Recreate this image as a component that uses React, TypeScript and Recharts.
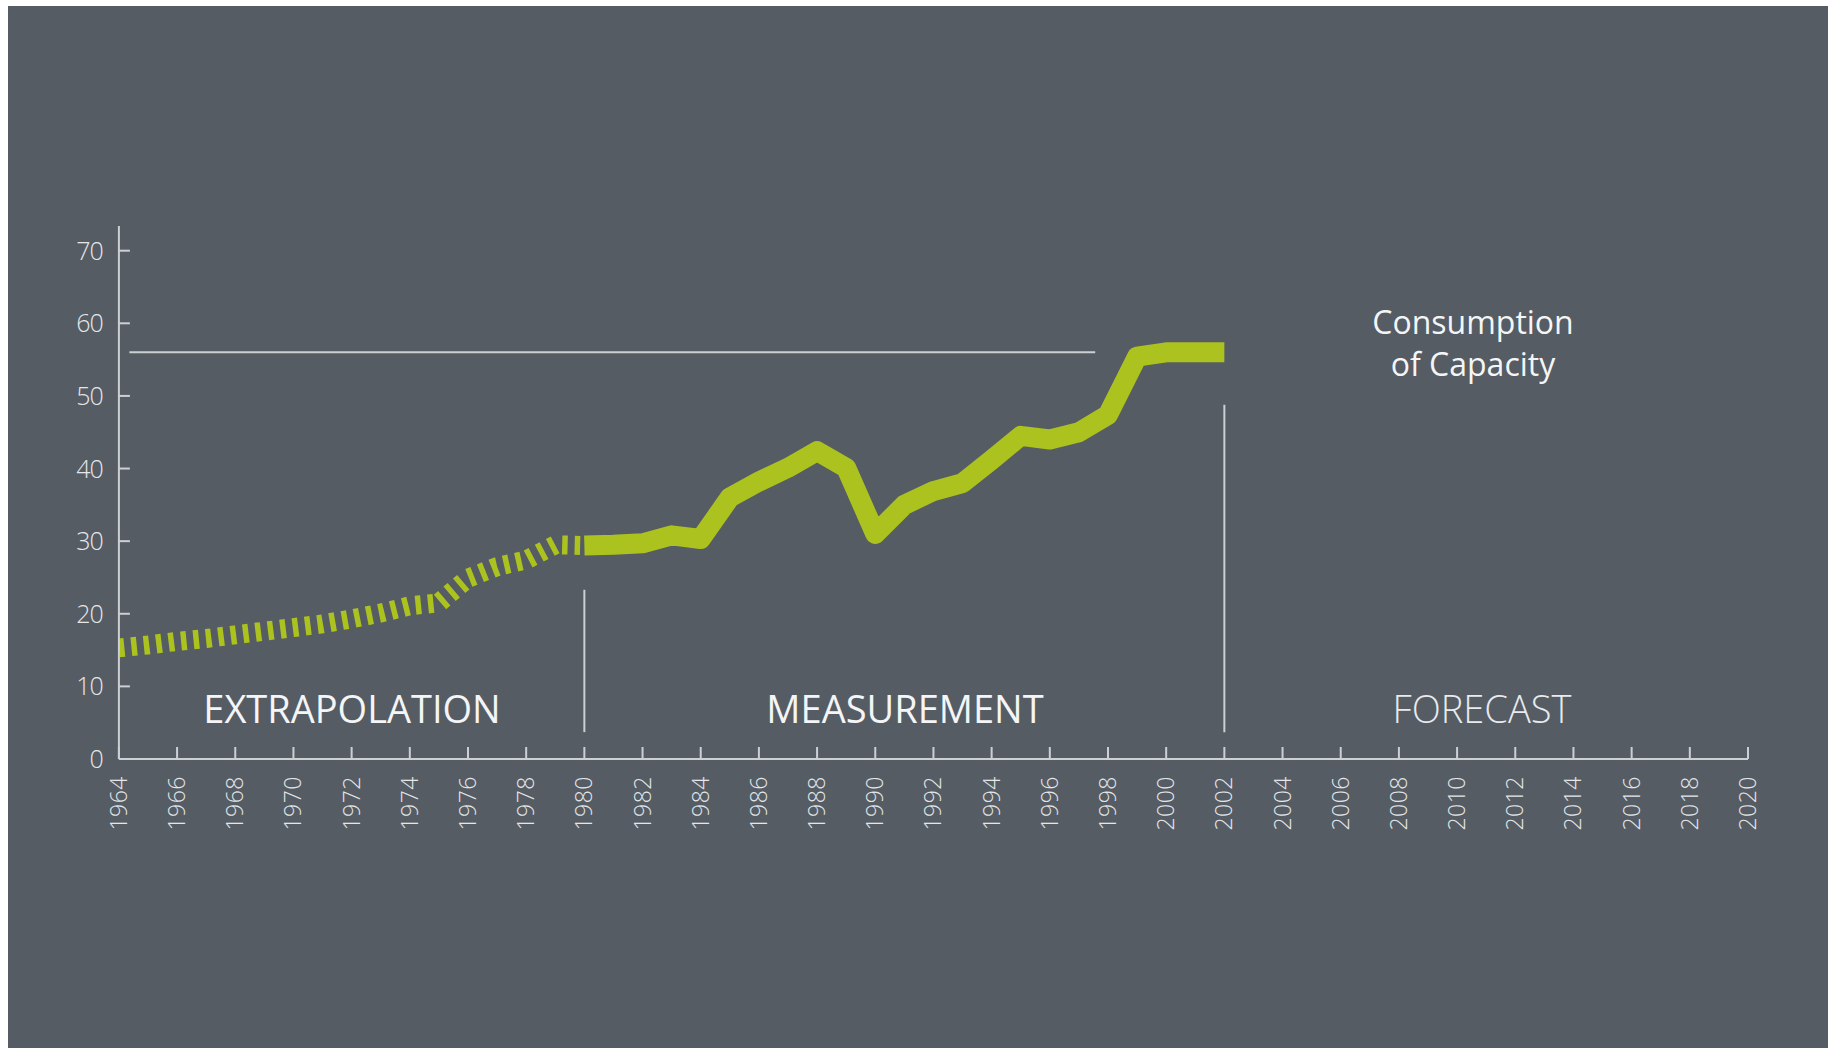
import { LineChart, Line, XAxis, YAxis, ReferenceLine } from 'recharts';

const extrapYears = [1964, 1965, 1966, 1967, 1968, 1969, 1970, 1971, 1972, 1973, 1974, 1975, 1976, 1977, 1978, 1979, 1980];
const extrapValues = [15.3, 15.7, 16.2, 16.6, 17.1, 17.6, 18.1, 18.6, 19.3, 20.1, 21.1, 21.5, 24.9, 26.5, 27.4, 29.5, 29.4];

const measYears = [1980, 1981, 1982, 1983, 1984, 1985, 1986, 1987, 1988, 1989, 1990, 1991, 1992, 1993, 1994, 1995, 1996, 1997, 1998, 1999, 2000, 2001, 2002];
const measValues = [29.4, 29.5, 29.7, 30.8, 30.3, 36.0, 38.2, 40.1, 42.4, 40.1, 31.0, 35.0, 36.9, 38.0, 41.2, 44.5, 44.0, 45.0, 47.4, 55.4, 56.0, 56.0, 56.0];

const yearTicks = [1964, 1966, 1968, 1970, 1972, 1974, 1976, 1978, 1980, 1982, 1984, 1986, 1988, 1990, 1992, 1994, 1996, 1998, 2000, 2002, 2004, 2006, 2008, 2010, 2012, 2014, 2016, 2018, 2020];
const valueTicks = [0, 10, 20, 30, 40, 50, 60, 70];

const capacityLevel = 56;
const capacityFrom = 1964.36;
const capacityTo = 1997.56;
const phaseBreaks = [
  { year: 1980, from: 3.7, to: 23.3 },
  { year: 2002, from: 3.7, to: 48.8 },
];

const phaseLabels = ['EXTRAPOLATION', 'MEASUREMENT', 'FORECAST'];
const titleLines = ['Consumption', 'of Capacity'];

const allYears = Array.from(new Set([...extrapYears, ...measYears])).sort((a, b) => a - b);
const data = allYears.map((year) => {
  const ei = extrapYears.indexOf(year);
  const mi = measYears.indexOf(year);
  return {
    year,
    extrap: ei >= 0 ? extrapValues[ei] : null,
    meas: mi >= 0 ? measValues[mi] : null,
  };
});

const W = 1820;
const H = 1042;
const BG = '#555c64';
const AXIS = '#cdd0d3';
const TEXT = '#e4e6e8';
const GREEN = '#abc21f';
const FONT = '"Open Sans", "Noto Sans", sans-serif';

const XTick = (props: any) => {
  const { x, y, payload } = props;
  return (
    <g>
      <line x1={x} y1={y} x2={x} y2={y - 12} stroke={AXIS} strokeWidth={2} />
      <text
        x={x + 8}
        y={y + 17}
        transform={`rotate(-90, ${x + 8}, ${y + 17})`}
        textAnchor="end"
        fill={TEXT}
        fontSize={23}
        fontWeight={300}
        fontFamily={FONT}
        letterSpacing={0.5}
      >
        {payload.value}
      </text>
    </g>
  );
};

const YTick = (props: any) => {
  const { x, y, payload } = props;
  return (
    <g>
      <line x1={x} y1={y} x2={x + 11} y2={y} stroke={AXIS} strokeWidth={2} />
      <text
        x={x - 16}
        y={y + 9}
        textAnchor="end"
        fill={TEXT}
        fontSize={25}
        fontWeight={300}
        fontFamily={FONT}
        letterSpacing={-1}
      >
        {payload.value}
      </text>
    </g>
  );
};

export default function App() {
  return (
    <div style={{ position: 'absolute', left: 8, top: 6, width: W, height: H, background: BG }}>
      <LineChart
        width={W}
        height={H}
        data={data}
        margin={{ top: 220, right: 80, bottom: 209, left: 50.9 }}
      >
        <XAxis
          dataKey="year"
          type="number"
          domain={[1964, 2020]}
          ticks={yearTicks}
          interval={0}
          height={80}
          tickSize={0}
          tickMargin={0}
          tickLine={false}
          axisLine={{ stroke: AXIS, strokeWidth: 2 }}
          tick={<XTick />}
        />
        <YAxis
          type="number"
          domain={[0, 73.4]}
          ticks={valueTicks}
          interval={0}
          width={60}
          tickSize={0}
          tickMargin={0}
          tickLine={false}
          axisLine={{ stroke: AXIS, strokeWidth: 2 }}
          tick={<YTick />}
        />
        <ReferenceLine
          segment={[{ x: capacityFrom, y: capacityLevel }, { x: capacityTo, y: capacityLevel }]}
          stroke={AXIS}
          strokeWidth={2}
          ifOverflow="visible"
        />
        {phaseBreaks.map((b) => (
          <ReferenceLine
            key={b.year}
            segment={[{ x: b.year, y: b.from }, { x: b.year, y: b.to }]}
            stroke={AXIS}
            strokeWidth={2}
            ifOverflow="visible"
          />
        ))}
        <Line
          type="linear"
          dataKey="extrap"
          stroke={GREEN}
          strokeWidth={19}
          strokeDasharray="5.5 7"
          strokeLinecap="butt"
          strokeLinejoin="round"
          dot={false}
          activeDot={false}
          connectNulls={false}
          isAnimationActive={false}
        />
        <Line
          type="linear"
          dataKey="meas"
          stroke={GREEN}
          strokeWidth={20}
          strokeLinecap="butt"
          strokeLinejoin="round"
          dot={false}
          activeDot={false}
          connectNulls={false}
          isAnimationActive={false}
        />
      </LineChart>
      <svg width={W} height={H} style={{ position: 'absolute', left: 0, top: 0, pointerEvents: 'none' }}>
        <text x={344} y={717} textAnchor="middle" fill="#f4f5f6" fontSize={38} fontFamily={FONT}>
          {phaseLabels[0]}
        </text>
        <text x={897} y={717} textAnchor="middle" fill="#f4f5f6" fontSize={38} fontFamily={FONT}>
          {phaseLabels[1]}
        </text>
        <text x={1474} y={717} textAnchor="middle" fill="#e8eaec" fontSize={38} fontWeight={300} fontFamily={FONT}>
          {phaseLabels[2]}
        </text>
        <text x={1465} y={328} textAnchor="middle" fill="#f4f5f6" fontSize={32} fontFamily={FONT}>
          {titleLines[0]}
        </text>
        <text x={1465} y={370} textAnchor="middle" fill="#f4f5f6" fontSize={32} fontFamily={FONT}>
          {titleLines[1]}
        </text>
      </svg>
    </div>
  );
}
